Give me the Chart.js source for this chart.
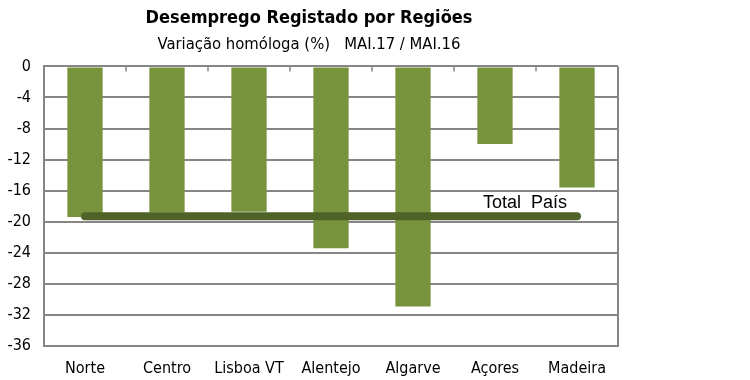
<!DOCTYPE html>
<html><head><meta charset="utf-8">
<script src="https://cdn.jsdelivr.net/npm/chart.js@4/dist/chart.umd.min.js"></script>
<style>html,body{margin:0;padding:0;background:#fff}#wrap{width:750px;height:380px}</style>
</head><body><div id="wrap"><canvas id="c" width="750" height="380"></canvas></div>
<script>
const categories = ["Norte","Centro","Lisboa VT","Alentejo","Algarve","Açores","Madeira"];
const regionValues = [-19.4,-18.8,-18.7,-23.4,-30.9,-10.0,-15.6];
const totalPais = -19.3;
const totalLabel = "Total  País";
const yTicks = [0,-4,-8,-12,-16,-20,-24,-28,-32,-36];
const titleText = "Desemprego Registado por Regiões";
const subtitleText = "Variação homóloga (%)   MAI.17 / MAI.16";

const NARROW = "'Liberation Sans Narrow', 'Arial Narrow', 'DejaVu Sans Condensed', sans-serif";
const GRID = "#868686";

const frame = {
  id:'frame',
  afterDatasetsDraw(chart){
    const {ctx, chartArea:a, scales} = chart;
    ctx.save();
    ctx.strokeStyle = GRID; ctx.lineWidth = 2;
    ctx.beginPath();
    ctx.moveTo(a.left, a.bottom); ctx.lineTo(a.right, a.bottom); ctx.lineTo(a.right, a.top);
    ctx.stroke();
    const xs = scales.x, y0 = scales.y.getPixelForValue(0);
    ctx.lineWidth = 1.5;
    for (let i=1;i<categories.length;i++){
      const px = (xs.getPixelForValue(i-1)+xs.getPixelForValue(i))/2;
      ctx.beginPath(); ctx.moveTo(px,y0); ctx.lineTo(px,y0+5); ctx.stroke();
    }
    ctx.fillStyle = "#000";
    ctx.font = "18px 'Liberation Sans', Arial, sans-serif";
    ctx.textAlign = "left"; ctx.textBaseline = "alphabetic";
    const tx = xs.getPixelForValue(5) - 12;
    const ty = scales.y.getPixelForValue(totalPais) - 8;
    ctx.fillText(totalLabel, tx, ty);
    ctx.restore();
  }
};

new Chart(document.getElementById('c'), {
  data: {
    labels: categories,
    datasets: [
      { type:'line', data: categories.map(()=>totalPais), borderColor:'#4F6228', borderWidth:8,
        borderCapStyle:'round', pointRadius:0, order:0 },
      { type:'bar', data: regionValues, backgroundColor:'#77933C', borderWidth:0,
        barPercentage:0.43, categoryPercentage:1, order:1 }
    ]
  },
  options: {
    responsive:false, animation:false,
    layout:{ padding:{ left:0, right:132, top:0, bottom:0 } },
    plugins:{
      legend:{display:false}, tooltip:{enabled:false},
      title:{ display:true, text:titleText, color:'#000',
        font:{ family:NARROW, size:18, weight:'bold', lineHeight:1.2 },
        padding:{top:8, bottom:3} },
      subtitle:{ display:true, text:subtitleText, color:'#000',
        font:{ family:NARROW, size:16.5, lineHeight:1.2 },
        padding:{top:2, bottom:12} }
    },
    scales:{
      x:{ grid:{display:false}, border:{display:false},
        ticks:{ color:'#000', font:{family:NARROW, size:16}, padding:5, maxRotation:0 },
        afterFit(s){ s.height = 34; } },
      y:{ min:-36, max:0,
        afterBuildTicks(s){ s.ticks = yTicks.map(v=>({value:v})); },
        grid:{ color:GRID, lineWidth:2, drawTicks:false },
        border:{ display:true, color:GRID, width:2 },
        ticks:{ color:'#000', font:{family:NARROW, size:16}, padding:13 },
        afterFit(s){ s.width = 44; } }
    }
  },
  plugins:[frame]
});
</script></body></html>
